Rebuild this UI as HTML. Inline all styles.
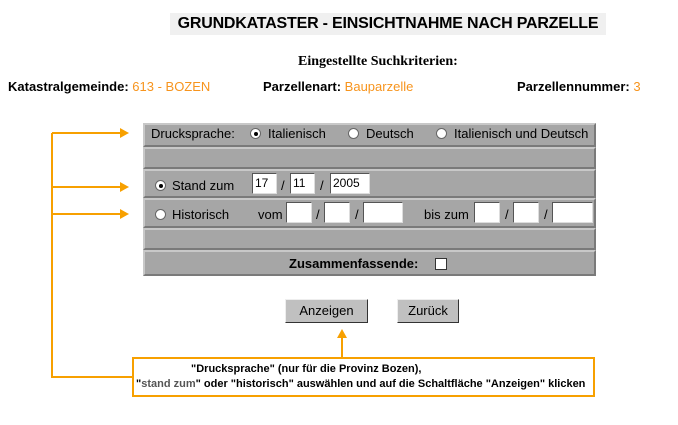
<!DOCTYPE html>
<html><head><meta charset="utf-8"><style>
*{margin:0;padding:0;box-sizing:border-box}
body{width:678px;height:425px;background:#fff;position:relative;font-family:"Liberation Sans",Arial,sans-serif;overflow:hidden}
.a{position:absolute;white-space:nowrap}
.o{color:#f7941d}
.row{position:absolute;left:143px;width:453px;background:#a6a6a6;border:2px solid;border-color:#c8c8c8 #7a7a7a #7a7a7a #c8c8c8;font-size:12px;color:#000}
.in{position:absolute;background:#fff;border:1px solid;border-color:#555 #ddd #ddd #555;height:21px;font-size:12px;padding-left:2px;line-height:19px}
.rd{position:absolute;width:11px;height:11px;border-radius:50%;background:#fff;border:1px solid #666}
.rd.on::after{content:"";position:absolute;left:3px;top:3px;width:4px;height:4px;border-radius:50%;background:#000}
.btn{position:absolute;background:#c0c0c0;border:1px solid;border-color:#eee #333 #333 #eee;font-size:13px;text-align:center;line-height:21px;height:24px}
.t{font-size:13px}
</style></head><body>
<div class="a" style="left:170px;top:13px;width:436px;height:22px;background:#f0f0f0;font-weight:bold;font-size:16px;line-height:22px;text-align:center;letter-spacing:-0.2px">GRUNDKATASTER - EINSICHTNAHME NACH PARZELLE</div>
<div class="a" style="left:298px;top:54px;font-family:'Liberation Serif',serif;font-weight:bold;font-size:14px">Eingestellte Suchkriterien:</div>
<div class="a t" style="left:8px;top:79px"><b>Katastralgemeinde:</b> <span class="o">613 - BOZEN</span></div>
<div class="a t" style="left:263px;top:79px"><b>Parzellenart:</b> <span class="o">Bauparzelle</span></div>
<div class="a t" style="left:517px;top:79px"><b>Parzellennummer:</b> <span class="o">3</span></div>

<div class="row" style="top:123px;height:24px"></div>
<div class="row" style="top:147px;height:22px"></div>
<div class="row" style="top:169px;height:29px"></div>
<div class="row" style="top:198px;height:30px"></div>
<div class="row" style="top:228px;height:22px"></div>
<div class="row" style="top:250px;height:26px"></div>

<div class="a t" style="left:151px;top:126px">Drucksprache:</div>
<div class="rd on" style="left:250px;top:128px"></div><div class="a t" style="left:268px;top:126px">Italienisch</div>
<div class="rd" style="left:348px;top:128px"></div><div class="a t" style="left:366px;top:126px">Deutsch</div>
<div class="rd" style="left:436px;top:128px"></div><div class="a t" style="left:454px;top:126px">Italienisch und Deutsch</div>

<div class="rd on" style="left:155px;top:180px"></div><div class="a t" style="left:172px;top:178px">Stand zum</div>
<div class="in" style="left:252px;top:173px;width:25px">17</div><div class="a t" style="left:281px;top:178px">/</div>
<div class="in" style="left:290px;top:173px;width:25px">11</div><div class="a t" style="left:320px;top:178px">/</div>
<div class="in" style="left:330px;top:173px;width:40px">2005</div>

<div class="rd" style="left:155px;top:209px"></div><div class="a t" style="left:172px;top:207px">Historisch</div>
<div class="a t" style="left:258px;top:207px">vom</div>
<div class="in" style="left:286px;top:202px;width:26px"></div><div class="a t" style="left:316px;top:207px">/</div>
<div class="in" style="left:324px;top:202px;width:26px"></div><div class="a t" style="left:355px;top:207px">/</div>
<div class="in" style="left:363px;top:202px;width:40px"></div>
<div class="a t" style="left:424px;top:207px">bis zum</div>
<div class="in" style="left:474px;top:202px;width:26px"></div><div class="a t" style="left:505px;top:207px">/</div>
<div class="in" style="left:513px;top:202px;width:26px"></div><div class="a t" style="left:544px;top:207px">/</div>
<div class="in" style="left:552px;top:202px;width:41px"></div>

<div class="a t" style="left:289px;top:256px;font-weight:bold">Zusammenfassende:</div>
<div class="a" style="left:435px;top:258px;width:12px;height:12px;background:#fff;border:1px solid #333"></div>

<div class="btn" style="left:285px;top:299px;width:83px">Anzeigen</div>
<div class="btn" style="left:397px;top:299px;width:62px">Zurück</div>

<svg class="a" style="left:0;top:0" width="678" height="425">
<g stroke="#f7a000" stroke-width="2" fill="none">
<polyline points="52,133 52,377 133,377"/>
<line x1="52" y1="133" x2="122" y2="133"/>
<line x1="52" y1="187" x2="122" y2="187"/>
<line x1="52" y1="214" x2="122" y2="214"/>
<line x1="342" y1="336" x2="342" y2="358"/>
<rect x="133" y="358" width="461" height="38"/>
</g>
<g fill="#f7a000">
<polygon points="120,128 129,133 120,138"/>
<polygon points="120,182 129,187 120,192"/>
<polygon points="120,209 129,214 120,219"/>
<polygon points="337,338 342,329 347,338"/>
</g>
</svg>
<div class="a" style="left:191px;top:363px;font-size:11px;font-weight:bold">"Drucksprache" (nur für die Provinz Bozen),</div>
<div class="a" style="left:136px;top:378px;font-size:11px;font-weight:bold">"<span style="color:#555">stand zum</span>" oder "historisch" auswählen und auf die Schaltfläche "Anzeigen" klicken</div>
</body></html>
